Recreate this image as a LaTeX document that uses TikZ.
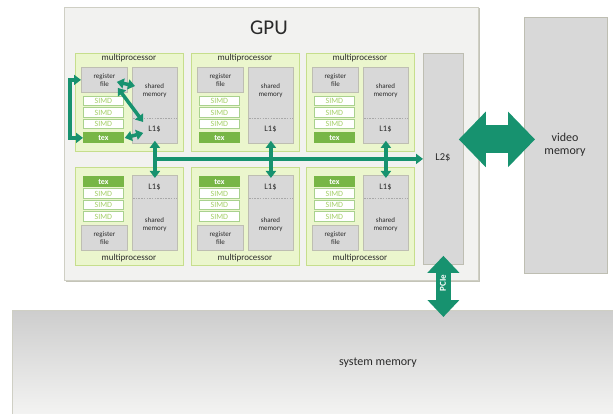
\documentclass[tikz,border=0pt]{standalone}
\usepackage{fontspec}
\setmainfont{Carlito}
\usetikzlibrary{arrows.meta,calc}

\definecolor{gpufill}{HTML}{F2F2F0}
\definecolor{gpuline}{HTML}{CFCFC4}
\definecolor{gpushade}{HTML}{C4C4B8}
\definecolor{mpfill}{HTML}{EBF6CD}
\definecolor{mpline}{HTML}{C6DE8C}
\definecolor{memfill}{HTML}{D8D8D8}
\definecolor{memline}{HTML}{BEBEB2}
\definecolor{simdline}{HTML}{A9D18E}
\definecolor{simdtext}{HTML}{A3CF66}
\definecolor{texfill}{HTML}{78B646}
\definecolor{linkc}{HTML}{17926F}
\definecolor{ink}{HTML}{2A2A2A}
\definecolor{dashc}{HTML}{A8A8A8}

\tikzset{
  box/.style={draw, anchor=north west, inner sep=0pt, line width=0.8pt},
  gpubox/.style={box, fill=gpufill, draw=gpuline, line width=1pt},
  mpbox/.style={box, fill=mpfill, draw=mpline, line width=1pt},
  graybox/.style={box, fill=memfill, draw=memline, align=center,
    font=\fontsize{7}{8}\selectfont, text=ink},
  simdbox/.style={box, fill=white, draw=simdline, minimum width=40pt,
    minimum height=9.5pt, font=\fontsize{8}{8}\selectfont, text=simdtext},
  texbox/.style={box, fill=texfill, draw=texfill, minimum width=40pt,
    minimum height=10pt, font=\fontsize{8}{8}\selectfont\bfseries, text=white},
  txt/.style={inner sep=0pt, text=ink, align=center},
  mplabel/.style={txt, font=\fontsize{9}{10}\selectfont},
  smalltxt/.style={txt, font=\fontsize{7}{8}\selectfont},
  cachetxt/.style={txt, font=\fontsize{8.5}{9}\selectfont},
  sep/.style={draw=dashc, line width=0.6pt, dash pattern=on 1.5pt off 1.2pt},
  link/.style={draw=linkc, line width=3.5pt,
    {Triangle[length=7pt,width=10pt]}-{Triangle[length=7pt,width=10pt]}},
  onelink/.style={draw=linkc, line width=3.5pt, -{Triangle[length=7pt,width=10pt]}},
  fat/.style={draw=linkc, line width=28pt,
    {Triangle[length=27pt,width=54pt]}-{Triangle[length=27pt,width=54pt]}},
  pcie/.style={draw=linkc, line width=15pt,
    {Triangle[length=17pt,width=31pt]}-{Triangle[length=17pt,width=31pt]}},
}

\begin{document}
\begin{tikzpicture}[x=1pt,y=-1pt]
  \useasboundingbox[fill=white] (0,0) rectangle (613,414);

  % system memory (runs off the right and bottom edges)
  \node[box, draw=gpuline, top color=memfill!95!black, bottom color=gpufill!60!white,
        minimum width=620pt, minimum height=115pt] (sys) at (12,310) {};
  \node[txt, font=\fontsize{12}{13}\selectfont] at (378,363) {system memory};

  % video memory
  \node[box, fill=memfill, draw=memline, minimum width=83pt, minimum height=256pt]
    (video) at (524,17) {};
  \node[txt, font=\fontsize{12}{13}\selectfont] at (565,145) {video\\memory};

  % GPU frame with a soft lower edge
  \fill[gpushade] (65.5,8.5) rectangle (479.5,281.5);
  \node[gpubox, minimum width=414pt, minimum height=273pt] (gpu) at (64,7) {};
  \node[txt, font=\fontsize{21}{22}\selectfont] at (269,28) {GPU};

  % L2 cache
  \node[box, fill=memfill, draw=memline, minimum width=40pt, minimum height=211pt]
    (L2) at (423,53) {};
  \node[txt, font=\fontsize{10.5}{11}\selectfont] at (443,158) {L2\$};

  % upper row of multiprocessors
  \foreach \i/\x in {1/75,2/191,3/306} {
    \node[mpbox, minimum width=108pt, minimum height=98pt] (mpT\i) at (\x,53) {};
    \node[mplabel] at (\x+54,58.5) {multiprocessor};
    \node[graybox, minimum width=46pt, minimum height=25pt] (rfT\i) at (\x+6,67) {register\\file};
    \node[simdbox] at (\x+8,96) {SIMD};
    \node[simdbox] at (\x+8,107.5) {SIMD};
    \node[simdbox] at (\x+8,119) {SIMD};
    \node[texbox] (texT\i) at (\x+8,132.5) {tex};
    \node[graybox, minimum width=45pt, minimum height=76pt] (shT\i) at (\x+57,67) {};
    \node[smalltxt] at (\x+79.5,91) {shared\\memory};
    \draw[sep] ($(shT\i.north west)+(1,51)$) -- ($(shT\i.north east)+(-1,51)$);
    \node[cachetxt] (l1T\i) at (\x+79.5,129) {L1\$};
  }

  % lower row of multiprocessors
  \foreach \i/\x in {1/75,2/191,3/306} {
    \node[mpbox, minimum width=108pt, minimum height=98pt] (mpB\i) at (\x,167) {};
    \node[mplabel] at (\x+54,258) {multiprocessor};
    \node[texbox] (texB\i) at (\x+8,176.5) {tex};
    \node[simdbox] at (\x+8,188.5) {SIMD};
    \node[simdbox] at (\x+8,200) {SIMD};
    \node[simdbox] at (\x+8,211.5) {SIMD};
    \node[graybox, minimum width=46pt, minimum height=25pt] (rfB\i) at (\x+6,225) {register\\file};
    \node[graybox, minimum width=45pt, minimum height=75pt] (shB\i) at (\x+57,175) {};
    \node[cachetxt] (l1B\i) at (\x+79.5,187) {L1\$};
    \draw[sep] ($(shB\i.north west)+(1,23)$) -- ($(shB\i.north east)+(-1,23)$);
    \node[smalltxt] at (\x+79.5,225) {shared\\memory};
  }

  % paths inside the first multiprocessor
  \draw[link] (texT1.west) -- ++(-13,0) |- (rfT1.west);
  \draw[link] ($(rfT1.east)+(-11,2)$) -- ($(shT1.north west)+(3,19)$);
  \draw[link] ($(rfT1.east)+(-10,8)$) -- ($(l1T1.west)+(-5,-7)$);
  \draw[link] ($(texT1.east)+(1,0)$) -- ($(l1T1.west)+(-5,4)$);

  % L1 caches to the lower row and the bus to L2
  \foreach \i in {1,2,3}
    \draw[link] ($(shT\i.south)+(0,-3)$) -- ($(shB\i.north)+(0,3)$);
  \draw[onelink] (shT1.south |- L2.west) -- (L2.west);

  % L2 to video memory
  \draw[fat] ($(L2.east)+(-5,-19.5)$) -- ($(video.west)+(11,-6)$);

  % PCIe link to system memory
  \draw[pcie] ($(L2.south)+(0,-9)$) -- ($(L2.south |- sys.north)+(0,7)$);
  \node[txt, text=white, rotate=90, font=\fontsize{9}{10}\selectfont\bfseries] at (443,283) {PCIe};
\end{tikzpicture}
\end{document}
